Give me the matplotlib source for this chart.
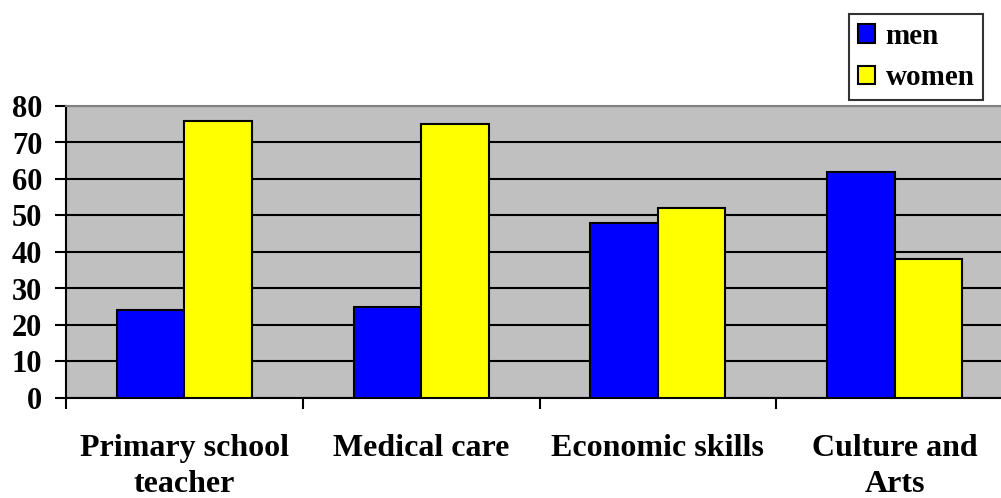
import matplotlib.pyplot as plt
import numpy as np

categories = ['Primary school\nteacher', 'Medical care', 'Economic skills', 'Culture and\nArts']
men = [24, 25, 48, 62]
women = [76, 75, 52, 38]

plt.rcParams['font.family'] = 'Liberation Serif'
plt.rcParams['font.weight'] = 'bold'

fig = plt.figure(figsize=(10.01, 4.98), dpi=100)
ax = fig.add_axes([66 / 1001, 1 - 398 / 498, 947 / 1001, 292 / 498])
ax.set_facecolor('#C0C0C0')

x = np.arange(len(categories))
w = 0.285
ax.bar(x - w / 2, men, w, color='#0000FF', edgecolor='black', linewidth=1.5, label='men', zorder=3)
ax.bar(x + w / 2, women, w, color='#FFFF00', edgecolor='black', linewidth=1.5, label='women', zorder=3)

ax.set_xlim(-0.5, 3.5)
ax.set_ylim(0, 80)
ax.set_yticks(range(0, 81, 10))
ax.yaxis.grid(True, color='black', linewidth=1.5, zorder=1)
ax.set_axisbelow(True)

ax.set_xticks(np.arange(-0.5, 3.5, 1))
ax.set_xticklabels([])
ax.set_xticks(x, minor=True)
ax.set_xticklabels(categories, minor=True, fontsize=23, fontweight='bold', linespacing=1.3)
ax.tick_params(axis='x', which='minor', length=0, pad=26)
ax.tick_params(axis='x', which='major', length=8, width=1.5, direction='out')
ax.tick_params(axis='y', length=8, width=1.5, labelsize=22, pad=9)

for s in ['left', 'bottom']:
    ax.spines[s].set_linewidth(1.5)
    ax.spines[s].set_color('black')
ax.spines['top'].set_color('#808080')
ax.spines['top'].set_linewidth(1.5)
ax.spines['right'].set_visible(False)

leg = fig.legend(loc='upper left', bbox_to_anchor=(849 / 1001, 1 - 14 / 498),
                 fontsize=21, frameon=True, fancybox=False, edgecolor='black',
                 handlelength=0.6, handleheight=0.6, handletextpad=0.35,
                 labelspacing=0.5, borderpad=0.3, borderaxespad=0)
leg.get_frame().set_linewidth(1.5)
for t in leg.get_texts():
    t.set_fontweight('bold')

fig.savefig('out.png', dpi=100)
